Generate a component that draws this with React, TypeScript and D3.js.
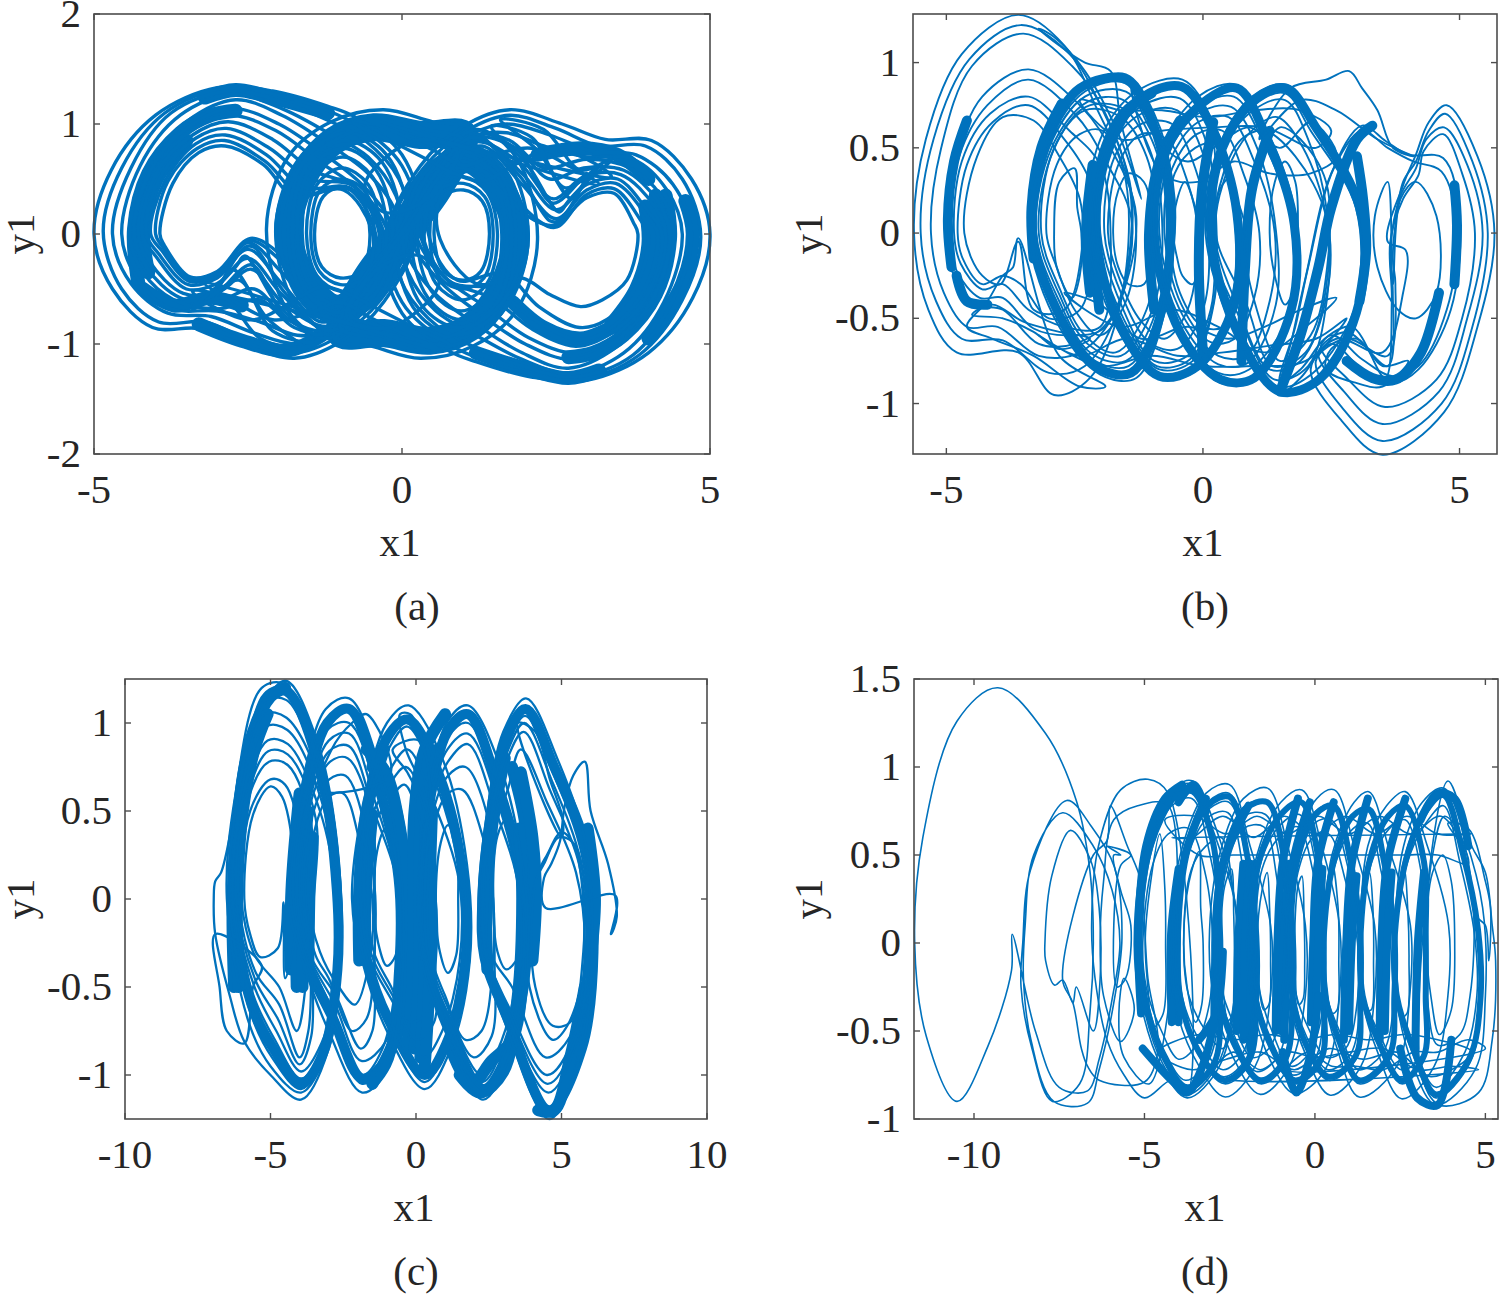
import React from "react";
import * as d3 from "d3";

// --- panel (a)
const loopsA = [
  [-5,0,-4.72,.58,-4,1.08,-3,1.33,-2.1,1.3,-1.2,1.16,-.75,1.06,0,.72,.3,.1,-.3,-.62,-1,-.98,-1.75,-1.13,-2.6,-1,-3.3,-.86,-4.05,-.85,-4.7,-.5],
  [-4.85,.02,-4.55,.6,-3.85,1.1,-2.85,1.33,-2,1.26,-1.2,1.12,-.7,.98,0,.62,.25,.05,-.35,-.6,-1.05,-.94,-1.75,-1.08,-2.5,-.96,-3.2,-.8,-3.95,-.8,-4.55,-.5],
  [-4.7,0,-4.4,.6,-3.75,1.1,-2.8,1.3,-1.95,1.2,-1.15,1.02,-.6,.85,-.05,.5,.15,0,-.4,-.58,-1.1,-.9,-1.7,-1,-2.4,-.9,-3.1,-.75,-3.8,-.72,-4.4,-.45],
  [-4.55,0,-4.25,.62,-3.6,1.08,-2.75,1.27,-1.95,1.14,-1.2,.92,-.55,.7,-.1,.35,.05,-.05,-.45,-.55,-1.15,-.88,-1.7,-.92,-2.3,-.8,-3,-.7,-3.75,-.68,-4.3,-.4],
  [-4.42,0,-4.15,.6,-3.5,1.02,-2.7,1.22,-1.95,1.08,-1.2,.82,-.55,.55,-.12,.22,-.05,-.1,-.5,-.55,-1.2,-.9,-1.75,-.85,-2.3,-.6,-3,-.68,-3.7,-.6,-4.2,-.35],
  [-4.35,.03,-4.08,.58,-3.45,.98,-2.75,1.14,-2,1,-1.3,.74,-.65,.45,-.2,.12,-.12,-.15,-.55,-.58,-1.2,-.88,-1.85,-.78,-2.4,-.5,-2.95,-.6,-3.6,-.58,-4.15,-.3],
  [-4.28,0,-4.02,.55,-3.42,.94,-2.8,1.08,-2.05,.94,-1.35,.66,-.7,.4,-.25,.05,-.2,-.2,-.6,-.6,-1.2,-.84,-1.9,-.65,-2.45,-.32,-2.95,-.52,-3.55,-.54,-4.1,-.25],
  [-4.22,0,-3.98,.56,-3.4,.9,-2.82,1.02,-2.1,.86,-1.45,.58,-.75,.42,-.3,.02,-.3,-.25,-.65,-.6,-1.25,-.86,-1.95,-.55,-2.5,-.22,-3,-.45,-3.5,-.5,-4,-.2],
  [-4.15,0,-3.92,.52,-3.35,.87,-2.85,.96,-2.15,.78,-1.5,.5,-.8,.44,-.35,.05,-.35,-.3,-.7,-.62,-1.3,-.8,-1.95,-.45,-2.5,-.14,-3,-.4,-3.47,-.46,-3.95,-.18],
  [-4.08,0,-3.85,.48,-3.35,.82,-2.87,.9,-2.2,.72,-1.6,.42,-.85,.42,-.4,.08,-.42,-.32,-.75,-.62,-1.3,-.72,-1.95,-.35,-2.5,-.08,-3,-.38,-3.45,-.43,-3.9,-.15],
  [-4,0,-3.8,.48,-3.32,.78,-2.88,.85,-2.22,.66,-1.65,.36,-.9,.42,-.45,.05,-.45,-.3,-.8,-.6,-1.3,-.66,-1.9,-.28,-2.48,-.06,-3,-.36,-3.45,-.41,-3.88,-.12],
  [-3.93,0,-3.72,.46,-3.3,.74,-2.87,.8,-2.25,.63,-1.75,.34,-.95,.4,-.5,.05,-.5,-.25,-.85,-.55,-1.3,-.6,-1.9,-.22,-2.46,-.04,-3,-.34,-3.44,-.39,-3.86,-.1],
  [5,0,4.72,-.58,4,-1.08,3,-1.33,2.1,-1.3,1.2,-1.16,.75,-1.06,0,-.72,-.3,-.1,.3,.62,1,.98,1.75,1.13,2.6,1,3.3,.86,4.05,.85,4.7,.5],
  [4.85,-.02,4.55,-.6,3.85,-1.1,2.85,-1.33,2,-1.26,1.2,-1.12,.7,-.98,0,-.62,-.25,-.05,.35,.6,1.05,.94,1.75,1.08,2.5,.96,3.2,.8,3.95,.8,4.55,.5],
  [4.7,0,4.4,-.6,3.75,-1.1,2.8,-1.3,1.95,-1.2,1.15,-1.02,.6,-.85,.05,-.5,-.15,0,.4,.58,1.1,.9,1.7,1,2.4,.9,3.1,.75,3.8,.72,4.4,.45],
  [4.55,0,4.25,-.62,3.6,-1.08,2.75,-1.27,1.95,-1.14,1.2,-.92,.55,-.7,.1,-.35,-.05,.05,.45,.55,1.15,.88,1.7,.92,2.3,.8,3,.7,3.75,.68,4.3,.4],
  [4.42,0,4.15,-.6,3.5,-1.02,2.7,-1.22,1.95,-1.08,1.2,-.82,.55,-.55,.12,-.22,.05,.1,.5,.55,1.2,.9,1.75,.85,2.3,.6,3,.68,3.7,.6,4.2,.35],
  [4.35,-.03,4.08,-.58,3.45,-.98,2.75,-1.14,2,-1,1.3,-.74,.65,-.45,.2,-.12,.12,.15,.55,.58,1.2,.88,1.85,.78,2.4,.5,2.95,.6,3.6,.58,4.15,.3],
  [4.28,0,4.02,-.55,3.42,-.94,2.8,-1.08,2.05,-.94,1.35,-.66,.7,-.4,.25,-.05,.2,.2,.6,.6,1.2,.84,1.9,.65,2.45,.32,2.95,.52,3.55,.54,4.1,.25],
  [4.22,0,3.98,-.56,3.4,-.9,2.82,-1.02,2.1,-.86,1.45,-.58,.75,-.42,.3,-.02,.3,.25,.65,.6,1.25,.86,1.95,.55,2.5,.22,3,.45,3.5,.5,4,.2],
  [4.15,0,3.92,-.52,3.35,-.87,2.85,-.96,2.15,-.78,1.5,-.5,.8,-.44,.35,-.05,.35,.3,.7,.62,1.3,.8,1.95,.45,2.5,.14,3,.4,3.47,.46,3.95,.18],
  [4,0,3.8,-.48,3.32,-.78,2.88,-.85,2.22,-.66,1.65,-.36,.9,-.42,.45,-.05,.45,.3,.8,.6,1.3,.66,1.9,.28,2.48,.06,3,.36,3.45,.41,3.88,.12],
  [3.83,0,3.65,-.42,3.25,-.6,2.9,-.66,2.4,-.55,1.95,-.4,1.2,-.45,.62,-.05,.6,.3,.95,.58,1.4,.55,1.95,.2,2.46,.08,3,.33,3.44,.37,3.76,.1],
  [-1.42,0,-1.28,.34,-1,.42,-.68,.34,-.52,0,-.66,-.34,-1,-.4,-1.3,-.3],
  [-1.55,0,-1.38,.45,-.98,.6,-.55,.45,-.36,0,-.58,-.45,-1,-.52,-1.38,-.38],
  [-1.7,0,-1.5,.58,-.95,.78,-.42,.58,-.15,.03,-.45,-.55,-1,-.66,-1.48,-.48],
  [-1.85,0,-1.58,.68,-.9,.92,-.25,.72,.1,.1,-.3,-.55,-1,-.78,-1.6,-.55],
  [1.42,0,1.28,-.34,1,-.42,.68,-.34,.52,0,.66,.34,1,.4,1.3,.3],
  [1.55,0,1.38,-.45,.98,-.6,.55,-.45,.36,0,.58,.45,1,.52,1.38,.38],
  [1.7,0,1.5,-.58,.95,-.78,.42,-.58,.15,-.03,.45,.55,1,.66,1.48,.48],
  [1.85,0,1.58,-.68,.9,-.92,.25,-.72,-.1,-.1,.3,.55,1,.78,1.6,.55],
  [-1.48,0,-1.33,.4,-1,.5,-.62,.4,-.45,0,-.62,-.4,-1,-.46,-1.34,-.34],
  [-1.62,0,-1.44,.52,-.96,.7,-.48,.52,-.25,.02,-.5,-.5,-1,-.6,-1.42,-.44],
  [-1.78,0,-1.54,.63,-.92,.85,-.32,.65,-.02,.06,-.36,-.55,-1,-.72,-1.55,-.52],
  [1.48,0,1.33,-.4,1,-.5,.62,-.4,.45,0,.62,.4,1,.46,1.34,.34],
  [1.62,0,1.44,-.52,.96,-.7,.48,-.52,.25,-.02,.5,.5,1,.6,1.42,.44],
  [1.78,0,1.54,-.63,.92,-.85,.32,-.65,.02,-.06,.36,.55,1,.72,1.55,.52],
  [-2.2,.05,-1.85,.7,-1.15,1.02,-.3,1.13,.5,1.02,1.1,.95,.65,.42,.05,-.02,-.5,-.6,-1.2,-.95,-1.85,-.7],
  [2.2,-.05,1.85,-.7,1.15,-1.02,.3,-1.13,-.5,-1.02,-1.1,-.95,-.65,-.42,-.05,.02,.5,.6,1.2,.95,1.85,.7],
  [-2.05,.02,-1.75,.62,-1.1,.95,-.3,1.06,.4,.95,1,.85,.55,.38,0,-.02,-.55,-.55,-1.15,-.88,-1.75,-.62],
  [-1.98,0,-1.68,.58,-1,.88,-.3,.98,.3,.85,.85,.72,.4,.3,-.05,-.05,-.6,-.52,-1.1,-.8,-1.68,-.58],
  [2.05,-.02,1.75,-.62,1.1,-.95,.3,-1.06,-.4,-.95,-1,-.85,-.55,-.38,0,.02,.55,.55,1.15,.88,1.75,.62],
  [1.98,0,1.68,-.58,1,-.88,.3,-.98,-.3,-.85,-.85,-.72,-.4,-.3,.05,.05,.6,.52,1.1,.8,1.68,.58],
  [-.8,1.02,-.2,.85,.4,.68,.85,.55,1.3,.48,1.8,.62,2.4,.78,3,.68,3.4,.52],
  [-.6,1.05,0,.9,.55,.75,1,.62,1.5,.72,2.1,.78,2.7,.62,3.2,.45],
  [.8,-1.02,.2,-.85,-.4,-.68,-.85,-.55,-1.3,-.48,-1.8,-.62,-2.4,-.78,-3,-.68,-3.4,-.52],
  [.6,-1.05,0,-.9,-.55,-.75,-1,-.62,-1.5,-.72,-2.1,-.78,-2.7,-.62,-3.2,-.45],
  [-2.4,-.12,-1.95,-.5,-1.3,-.92,-1.9,-.75,-2.45,-.28,-3,-.55,-2.55,-.12],
  [-2.55,-.2,-2.05,-.62,-1.45,-.98,-2.1,-.88,-2.65,-.42,-3.2,-.62,-2.7,-.3],
  [-2.75,-.32,-2.2,-.76,-1.6,-1.04,-2.3,-.95,-2.9,-.58,-3.4,-.68,-2.95,-.45],
  [2.4,.12,1.95,.5,1.3,.92,1.9,.75,2.45,.28,3,.55,2.55,.12],
  [2.55,.2,2.05,.62,1.45,.98,2.1,.88,2.65,.42,3.2,.62,2.7,.3],
  [2.75,.32,2.2,.76,1.6,1.04,2.3,.95,2.9,.58,3.4,.68,2.95,.45],
  [-.6,.45,.2,.85,.9,.75,.35,.3,-.3,.2],
  [.6,-.45,-.2,-.85,-.9,-.75,-.35,-.3,.3,-.2],
];
const ringsA = [
  [-1.85,0,-1.62,.5,-1.1,.85,-.45,.97,.3,.9,1,.9,.6,.42,.05,0,-.5,-.45,-1.05,-.68,-1.55,-.45],
  [1.85,0,1.62,-.5,1.1,-.85,.45,-.97,-.3,-.9,-1,-.9,-.6,-.42,-.05,0,.5,.45,1.05,.68,1.55,.45],
];
const bandsA = [
  [-4.28,-.45,-4.35,.05,-4.12,.55,-3.6,.92,-3.1,1.08,-2.7,1.12],
  [-4.12,-.35,-4.2,.05,-3.98,.5,-3.5,.85],
  [-3.2,1.24,-2.7,1.31,-2.1,1.24,-1.2,1.1],
  [-4.2,-.5,-3.7,-.65,-3.1,-.58,-2.6,-.65],
  [-3.3,-.82,-2.6,-.97,-1.85,-1.06,-1.3,-.92],
  [4.28,.35,4.35,-.05,4.12,-.55,3.6,-.92,3.1,-1.08,2.7,-1.12],
  [4.12,.35,4.2,-.05,3.98,-.5,3.5,-.85],
  [3.95,.25,4,-.1,3.8,-.5,3.4,-.82],
  [4.6,.3,4.72,0,4.55,-.45,4,-.95],
  [3.2,-1.24,2.7,-1.31,2.1,-1.24,1.2,-1.08],
  [3.4,-.85,2.9,-.95,2.3,-.85,1.8,-.62],
  [2.2,.72,2.9,.78,3.5,.72,4,.5],
];

// --- panel (b)
const loopsB = [
  [-5.63,0,-5.4,.55,-4.7,1.05,-3.6,1.28,-2.7,1.1,-2.1,.75,-1.5,.3,-1.6,-.4,-2.2,-.85,-2.9,-.95,-3.6,-.7,-4.8,-.7,-5.35,-.45],
  [-5.5,0,-5.25,.55,-4.55,1.02,-3.55,1.22,-2.6,1.05,-2,.75,-1.4,.25,-1.6,-.4,-2.3,-.78,-3,-.82,-3.9,-.63,-4.7,-.62,-5.2,-.4],
  [-5.3,0,-5.1,.5,-4.5,.98,-3.5,1.17,-2.55,.98,-1.9,.7,-1.4,.2,-1.7,-.45,-2.4,-.7,-3.2,-.72,-4,-.55,-4.6,-.55,-5.05,-.35],
  [-5,0,-4.8,.45,-4.3,.8,-3.4,.96,-2.5,.78,-1.9,.55,-1.3,.1,-1.8,-.5,-2.5,-.65,-3.2,-.65,-3.9,-.45,-4.4,-.42,-4.85,-.25],
  [-4.95,0,-4.75,.45,-4.2,.75,-3.4,.9,-2.5,.7,-1.95,.45,-1.38,.05,-1.9,-.55,-2.6,-.6,-3.3,-.56,-3.9,-.38,-4.35,-.38,-4.8,-.22],
  [-4.85,0,-4.7,.42,-4.15,.7,-3.4,.8,-2.6,.6,-2,.4,-1.8,0,-2,-.55,-2.7,-.55,-3.4,-.45,-3.9,-.3,-4.3,-.33,-4.72,-.18],
  [-4.78,0,-4.6,.4,-4.1,.65,-3.4,.75,-2.7,.55,-2.2,.3,-2.1,0,-2.4,-.45,-3,-.5,-3.55,-.3,-3.9,-.25,-4.3,-.3,-4.68,-.15],
  [-4.65,0,-4.4,.45,-3.9,.68,-3.3,.66,-2.8,.45,-2.4,.2,-2.36,-.1,-2.7,-.45,-3.3,-.45,-3.6,-.05,-3.95,-.3,-4.3,-.25],
  [-3.4,0,-3.1,.5,-2.4,.85,-1.5,.93,-.95,.7,-.6,.3,-.7,-.4,-1.3,-.85,-2,-.83,-2.8,-.55],
  [-3.3,0,-3,.52,-2.3,.83,-1.5,.88,-.9,.62,-.55,.2,-.75,-.4,-1.4,-.82,-2.1,-.78,-2.8,-.5],
  [-3.25,0,-2.95,.5,-2.25,.77,-1.55,.78,-1,.55,-.7,.15,-.85,-.4,-1.5,-.75,-2.2,-.7,-2.8,-.4],
  [-3.15,0,-2.9,.5,-2.3,.72,-1.6,.68,-1.1,.45,-.9,.05,-1.1,-.45,-1.7,-.7,-2.3,-.6,-2.8,-.32],
  [-3.05,0,-2.85,.4,-2.4,.58,-1.95,.6,-1.5,.35,-1.3,0,-1.5,-.4,-2,-.6,-2.5,-.45,-2.85,-.2],
  [-2.9,0,-2.8,.3,-2.5,.38,-2.45,.15,-2.37,0,-2.4,-.25,-2.55,-.38,-2.85,-.2],
  [-2.25,0,-2,.55,-1.3,.83,-.4,.9,.2,.65,.65,.2,.55,-.4,-.1,-.8,-.85,-.85,-1.6,-.6],
  [-2.15,0,-1.9,.5,-1.25,.78,-.4,.85,.15,.6,.25,.15,.22,-.4,-.2,-.75,-.85,-.8,-1.55,-.55],
  [-2,0,-1.8,.5,-1.2,.7,-.5,.72,.02,.45,.2,.05,.15,-.45,-.3,-.72,-.95,-.75,-1.55,-.45],
  [-1.85,0,-1.65,.4,-1.2,.58,-.7,.55,-.3,.3,-.1,0,-.3,-.45,-.75,-.62,-1.2,-.52,-1.65,-.25],
  [-1.75,0,-1.65,.25,-1.45,.35,-1.15,.3,-1,0,-1.15,-.3,-1.45,-.3,-1.65,-.2],
  [-1,0,-.8,.5,-.1,.8,.65,.87,1.25,.6,1.8,.1,1.7,-.45,1,-.85,.35,-.88,-.45,-.6],
  [-.95,0,-.75,.48,-.1,.74,.6,.8,1.15,.55,1.75,.05,1.72,-.45,.9,-.8,.3,-.82,-.45,-.55],
  [-.85,0,-.65,.42,-.1,.65,.5,.68,1,.42,1.4,0,1.3,-.4,.85,-.72,.3,-.72,-.4,-.48],
  [-.65,0,-.55,.35,-.15,.5,.25,.52,.6,.25,.85,0,.75,-.35,.4,-.55,0,-.55,-.45,-.35],
  [-.58,0,-.5,.2,-.35,.3,-.2,.2,-.05,0,-.2,-.3,-.4,-.25,-.5,-.15],
  [.05,0,.3,.5,.95,.8,1.62,.87,2.2,.65,3,.15,3.02,-.4,2.2,-.85,1.5,-.95,.65,-.6],
  [.15,0,.4,.48,1,.75,1.6,.82,2.1,.6,2.98,.15,3,-.4,2.15,-.82,1.45,-.9,.7,-.55],
  [.22,0,.4,.35,.75,.55,1.2,.6,1.8,.45,2.4,.1,2.42,-.35,1.9,-.75,1.3,-.8,.7,-.45],
  [.25,0,.32,.25,.55,.33,.62,.1,.65,-.15,.55,-.4,.35,-.3],
  [1.3,0,1.4,.3,1.6,.42,1.8,.3,1.85,0,1.8,-.3,1.6,-.42,1.4,-.25],
  [.8,0,1.1,.4,1.5,.62,1.9,.55,2.4,.3,2.42,-.2,2.1,-.6,1.5,-.75,1.05,-.45],
  [2,-.26,2.5,.35,3.1,.63,3.56,.54,4,.46,4.68,.44,5,.1,4.83,-.45,4.2,-.8,3.7,-.88,3.1,-.8,2.5,-.65,1.9,-.85,1.5,-.95,1.75,-.6],
  [2.05,-.2,2.55,.38,3.1,.6,3.6,.5,4.1,.42,4.65,.36,4.95,0,4.75,-.45,4.2,-.78,3.7,-.84,3.1,-.74,2.5,-.6,1.9,-.8,1.5,-.88,1.8,-.55],
  [4.75,.75,5.35,.45,5.68,0,5.35,-.55,4.7,-1.05,3.5,-1.3,2.7,-1.1,2.1,-.8,2.6,-.62,3.5,-.7,3.9,-.35,3.95,-.1,3.6,-.05,3.9,.28,4.15,.46,4.4,.65],
  [4.72,.7,5.25,.42,5.55,0,5.25,-.55,4.65,-1,3.5,-1.22,2.7,-1.02,2.2,-.75,2.8,-.62,3.6,-.72,3.75,-.3,3.7,-.15,3.75,.05,3.9,.3,4.15,.42,4.4,.6],
  [4.7,.62,5.15,.4,5.45,0,5.15,-.5,4.6,-.93,3.5,-1.12,2.75,-.93,2.25,-.7,2.8,-.58,3.6,-.78,3.7,-.35,3.65,-.1,3.85,.22,4.15,.38,4.35,.55],
  [4.68,.58,5.05,.35,5.3,0,5.05,-.5,4.55,-.86,3.55,-1.02,2.8,-.85,2.3,-.66,2.9,-.55,3.55,-.85,3.68,-.4,3.65,-.05,3.9,.2,4.2,.34,4.3,.48],
  [3.7,-.3,3.85,.2,4.15,.3,4.55,.1,4.55,-.35,4.15,-.5,3.8,-.45,3.4,-.2,3.35,.1,3.6,.3],
  [-3.28,0,-3,.5,-2.3,.8,-1.5,.83,-.95,.58,-.62,.15,-.8,-.4,-1.45,-.78,-2.15,-.74,-2.8,-.45],
  [-3.2,0,-2.92,.48,-2.28,.74,-1.55,.73,-1.05,.5,-.8,.1,-.95,-.42,-1.6,-.72,-2.25,-.65,-2.8,-.36],
  [-2.08,0,-1.85,.5,-1.22,.74,-.45,.79,.08,.52,.22,.1,.2,-.42,-.25,-.74,-.9,-.78,-1.55,-.5],
  [-1.92,0,-1.72,.45,-1.2,.64,-.6,.64,-.15,.38,.1,.02,0,-.45,-.5,-.68,-1.05,-.64,-1.6,-.35],
  [-.9,0,-.7,.45,-.1,.7,.55,.74,1.08,.48,1.42,.02,1.42,-.42,.88,-.76,.3,-.77,-.42,-.52],
  [-.75,0,-.6,.38,-.12,.58,.38,.6,.8,.34,1.1,0,1,-.38,.62,-.62,.15,-.64,-.42,-.42],
  [.1,0,.36,.48,.98,.72,1.6,.78,2.05,.55,2.42,.12,2.42,-.38,2.05,-.78,1.4,-.86,.72,-.5],
  [.25,0,.55,.42,1.02,.62,1.45,.68,1.95,.5,2.4,.1,2.4,-.32,2,-.7,1.35,-.78,.85,-.42],
  [-2.4,.78,-1.6,.72,-.8,.72,.1,.68,1,.72,1.9,.72,2.5,.6,2.2,.5,1.2,.62,.2,.62,-.8,.6,-1.6,.55],
  [-3.2,-.6,-2.4,-.72,-1.5,-.62,-.5,-.72,.4,-.7,1.3,-.66,2.2,-.62,2.8,-.5,2,-.75,1,-.78,0,-.78,-1,-.72,-2,-.78],
  [1.1,.55,1.7,.85,2.4,.9,2.85,.95,3.1,.85,3.4,.72,3.7,.5,4.1,.45,3.4,.55,2.6,.72,1.9,.78],
  [-1.8,.95,-2.3,1,-2.8,1.1,-3.2,1.2,-2.9,1.15,-2.3,.95,-1.6,.55,-1.2,.2,-1.6,.65],
  [-3.6,-.03,-3.7,-.2,-3.9,-.25,-4.2,-.4,-4.6,-.55,-4.1,-.62,-3.3,-.72,-2.4,-.9,-1.9,-.9,-2.8,-.72],
  [-1.4,.85,-.9,.55,-.3,.42,.2,.5,.9,.62,1.5,.5,2.1,.65,2.6,.45,2.1,.35,1.3,.35,.6,.42,-.1,.3,-.8,.35],
  [-2.7,-.35,-2,-.42,-1.2,-.62,-.3,-.55,.5,-.62,1.2,-.55,1.9,-.45,2.6,-.38,2,-.55,1.2,-.7,.3,-.55,-.6,-.45,-1.6,-.55],
  [2.5,-.68,3,-.62,3.5,-.78,4,-.75,3.5,-.9,3,-.88,2.4,-.8],
  [-4.5,-.48,-3.9,-.5,-3.3,-.58,-2.8,-.68,-2.2,-.62,-2.8,-.58,-3.5,-.52,-4.1,-.42],
];
const ringsB = [
  [-3.32,0,-3.02,.55,-2.4,.85,-1.5,.9,-.95,.62,-.65,.15,-.8,-.45,-1.4,-.82,-2.1,-.78,-2.85,-.45],
  [-2.08,0,-1.85,.48,-1.25,.78,-.42,.86,.2,.6,.66,.12,.6,-.42,-.1,-.78,-.85,-.84,-1.6,-.55],
  [-.95,0,-.72,.48,-.1,.74,.66,.85,1.25,.55,1.78,.05,1.72,-.45,1,-.85,.35,-.86,-.45,-.58],
  [.15,0,.38,.5,1,.78,1.62,.85,2.2,.62,3.05,.15,3.05,-.4,2.3,-.85,1.5,-.93,.7,-.6],
];
const bandsB = [
  [-4.9,-.2,-4.97,.08,-4.85,.42,-4.6,.66],
  [-3.3,-.15,-3.34,.15,-3.15,.5,-2.75,.76],
  [-2.02,-.45,-2.12,0,-1.98,.42,-1.55,.7,-1,.82],
  [-2.2,-.35,-2.28,0,-2.15,.4],
  [-.95,-.45,-1.05,0,-.85,.42,-.45,.66],
  [0,-.7,-.08,-.2,-.02,.25,.2,.65],
  [.75,-.75,.82,-.2,.95,.25,1.3,.6],
  [3.05,-.4,3.18,-.1,3.12,.2,3,.45],
  [1.5,-.93,1.9,-.6,2.25,-.2,2.5,.15,3,.55,3.3,.63],
  [4.9,-.3,4.95,.05,4.9,.28],
  [2.8,-.75,3.3,-.85,3.75,-.86,4.25,-.7,4.6,-.35],
  [-4.8,-.25,-4.6,-.4,-4.2,-.42],
];

// --- panel (c)
const loopsC = [
  [-6.95,0,-6.9,.1,-6.7,.15,-6.35,.4,-5.9,.85,-4.5,1.24,-3.4,.9,-2.7,.3,-2.6,-.3,-3,-.85,-3.95,-1.14,-5,-1,-5.9,-.81,-6.4,-.55,-6.9,-.2],
  [-6.5,0,-6.2,.6,-5.3,1.2,-4.5,1.22,-3.2,.75,-2.6,.1,-2.6,-.4,-3.1,-.88,-3.95,-1.1,-5,-.95,-5.75,-.7],
  [-6.35,0,-6,.6,-5.2,1.05,-4.45,1.03,-3.2,.62,-2.7,.05,-2.65,-.4,-3.15,-.85,-3.95,-1.05,-4.9,-.85,-5.6,-.6],
  [-6.25,0,-5.9,.55,-5.1,.9,-4.4,.88,-3.3,.5,-2.72,0,-2.7,-.4,-3.25,-.82,-3.95,-.98,-4.8,-.75,-5.55,-.5],
  [-6.1,0,-5.8,.55,-5.05,.78,-4.4,.76,-3.6,.42,-3.55,0,-3.6,-.45,-3.7,-.75,-4,-.9,-4.7,-.6,-5.5,-.42],
  [-6,0,-5.7,.5,-5,.68,-4.5,.65,-3.9,.3,-3.7,0,-3.8,-.5,-4.1,-.75,-4.7,-.5,-5.3,-.38,-5.6,-.3],
  [-5.9,0,-5.6,.48,-5,.64,-4.6,.58,-4.2,.25,-4.15,-.2,-4.5,-.45,-4.55,-.02,-4.75,-.28,-5.35,-.33,-5.7,-.2],
  [-4.4,0,-4,.55,-3.1,1.08,-2.3,1.14,-1.2,.72,-.55,.2,-.45,-.4,-.9,-.95,-1.85,-1.1,-3,-.75,-3.9,-.35],
  [-4.3,0,-3.9,.55,-3,1,-2.3,1.06,-1.25,.62,-.62,.15,-.6,-.4,-1,-.9,-1.85,-1.05,-2.9,-.7,-3.8,-.35],
  [-4.15,0,-3.8,.5,-3,.9,-2.3,.94,-1.4,.55,-.65,.1,-.65,-.4,-1.15,-.85,-1.85,-1,-2.8,-.65,-3.7,-.33],
  [-4,0,-3.7,.5,-2.95,.78,-2.35,.8,-1.5,.45,-1.42,.05,-1.42,-.35,-1.5,-.75,-1.9,-.85,-2.75,-.55,-3.6,-.33],
  [-3.7,0,-3.5,.38,-3,.58,-2.5,.6,-1.9,.3,-1.5,0,-1.6,-.35,-2.1,-.6,-2.65,-.5,-3.3,-.3],
  [-2.2,0,-1.85,.5,-1,1,-.25,1.1,.9,.8,1.75,.2,1.85,-.35,1.2,-.85,.3,-1.08,-1,-.75,-1.85,-.35],
  [-2,0,-1.7,.5,-.95,.85,-.3,.98,.7,.65,1.5,.15,1.6,-.35,1,-.8,.3,-1,-.85,-.7,-1.7,-.33],
  [-1.9,0,-1.65,.5,-.95,.72,-.3,.85,.6,.55,1.48,.1,1.5,-.35,.9,-.75,.25,-.9,-.75,-.6,-1.6,-.33],
  [-1.65,0,-1.45,.42,-.95,.55,-.4,.65,.2,.4,.65,.05,.68,-.35,.35,-.65,-.25,-.7,-.85,-.5,-1.45,-.3],
  [-1.45,0,-1.3,.3,-1.05,.4,-.7,.33,-.55,0,-.7,-.32,-1,-.38,-1.3,-.25],
  [.05,0,.35,.5,1.05,1,1.78,1.1,2.9,.75,3.7,.15,3.85,-.35,3.2,-.9,2.3,-1.14,1,-.75,.2,-.35],
  [.1,0,.4,.5,1.1,.92,1.78,1,2.8,.62,3.55,.1,3.7,-.35,3.1,-.85,2.3,-1.08,1.05,-.72,.25,-.33],
  [.2,0,.45,.48,1.1,.78,1.78,.88,2.7,.52,3.55,.05,3.55,-.35,2.95,-.8,2.25,-1,1.1,-.65,.35,-.33],
  [.4,0,.62,.42,1.1,.6,1.6,.62,2.3,.35,2.65,0,2.65,-.35,2.25,-.75,1.7,-.8,1,-.55,.5,-.32],
  [.68,0,.85,.32,1.1,.42,1.38,.32,1.45,0,1.38,-.32,1.1,-.42,.82,-.3],
  [2.15,0,2.45,.5,3,.95,3.78,1.14,4.85,.8,5.85,.3,6.05,-.3,5.7,-.85,4.58,-1.25,3.05,-.7,2.3,-.35],
  [2.25,0,2.55,.48,3.1,.85,3.75,1.04,4.7,.72,5.7,.25,5.95,-.3,5.55,-.8,4.55,-1.1,3.1,-.65,2.4,-.33],
  [2.35,0,2.62,.45,3.1,.78,3.7,.95,4.6,.62,5.6,.2,5.85,-.3,5.4,-.8,4.5,-1,3.15,-.6,2.45,-.32],
  [2.55,0,2.8,.45,3.15,.62,3.6,.85,4.5,.55,5.5,.15,5.8,-.3,5.3,-.78,4.45,-.9,3.3,-.5,2.6,-.32],
  [2.65,0,2.8,.36,3.1,.45,3.5,.35,3.6,0,3.5,-.33,3.1,-.4,2.8,-.3],
  [3.95,-.05,4.1,.1,4.4,.2,4.9,.35,5.4,.32,5.8,.1,5.9,-.3,5.2,-.72,4.7,-.8,3.9,-.5],
  [-6.42,0,-6.1,.6,-5.25,1.12,-4.45,1.13,-3.3,.68,-2.65,.08,-2.62,-.38,-3.12,-.86,-3.95,-1.08,-4.95,-.9,-5.68,-.65],
  [-6.3,0,-5.95,.58,-5.15,.98,-4.42,.96,-3.25,.56,-2.72,.02,-2.7,-.4,-3.2,-.84,-3.95,-1.02,-4.85,-.8,-5.58,-.55],
  [-6.18,0,-5.85,.55,-5.08,.84,-4.4,.82,-3.45,.46,-3.5,0,-3.55,-.42,-3.6,-.78,-4,-.94,-4.75,-.68,-5.52,-.46],
  [-4.22,0,-3.85,.55,-3.05,.96,-2.3,1,-1.3,.58,-.7,.12,-.68,-.4,-1.08,-.88,-1.85,-1.02,-2.85,-.68,-3.75,-.34],
  [-4.08,0,-3.75,.5,-2.98,.84,-2.32,.87,-1.45,.5,-.62,.08,-.6,-.38,-1,-.8,-1.88,-.92,-2.78,-.6,-3.65,-.33],
  [-3.85,0,-3.6,.45,-2.98,.68,-2.42,.7,-1.7,.38,-1.4,.02,-1.45,-.35,-1.7,-.68,-2.2,-.75,-3,-.45,-3.45,-.32],
  [-2.1,0,-1.78,.5,-.98,.92,-.28,1.04,.8,.72,1.6,.18,1.72,-.35,1.1,-.82,.3,-1.04,-.92,-.72,-1.78,-.34],
  [-1.78,0,-1.55,.46,-.95,.64,-.35,.75,.4,.48,.66,.08,.66,-.35,.62,-.7,.02,-.8,-.8,-.55,-1.52,-.32],
  [.15,0,.42,.5,1.08,.85,1.78,.94,2.75,.58,3.5,.08,3.6,-.35,3.02,-.82,2.28,-1.04,1.08,-.68,.3,-.33],
  [.3,0,.52,.45,1.1,.7,1.7,.75,2.5,.44,2.65,.02,2.7,-.35,2.6,-.78,1.98,-.9,1.05,-.6,.42,-.32],
  [2.3,0,2.58,.47,3.1,.82,3.72,1,4.65,.68,5.65,.22,5.9,-.3,5.48,-.8,4.52,-1.05,3.12,-.62,2.42,-.33],
  [4,-.05,4.2,.15,4.5,.25,5,.38,5.45,.3,5.72,.05,5.75,-.3,5.3,-.7,4.7,-.72,4.1,-.5],
  [4.45,-.05,4.4,.12,4.65,.2,4.95,.33,5.1,.52,5.4,.7,5.8,.78,6,.5,6.6,.2,6.9,-.1,6.7,-.2,6.85,.02],
  [3.5,1,4.1,.95,4.6,.68,5.05,.45,5,.35],
  [-3.3,.62,-2.9,.85,-2.2,1,-1.7,1.05,-.9,.7],
  [-.55,1.05,-.35,.85,.2,.65,.55,.45,.3,.85,-.2,1.05],
  [-.8,.85,-.3,.72,.2,.55,.55,.3,.1,.9],
  [-6.9,-.2,-6.75,-.5,-6.5,-.75,-5.9,-.82,-5.6,-.5,-5.3,-.38],
];
const ringsC = [
  [-6.25,0,-5.9,.55,-5.12,1.15,-4.45,1.18,-3.25,.7,-2.72,.05,-2.7,-.4,-3.2,-.88,-3.95,-1.05,-4.9,-.85,-5.65,-.6],
  [-4.2,0,-3.85,.52,-3.05,1,-2.3,1.08,-1.25,.62,-.6,.12,-.58,-.4,-1,-.9,-1.85,-1.02,-2.85,-.68,-3.8,-.34],
  [-1.95,0,-1.68,.5,-.98,.92,-.28,1.02,.8,.7,1.6,.15,1.7,-.35,1.05,-.82,.3,-1,-.9,-.7,-1.7,-.34],
  [.15,0,.42,.5,1.08,.95,1.78,1.05,2.8,.65,3.65,.12,3.8,-.35,3.15,-.88,2.3,-1.08,1.05,-.7,.28,-.33],
  [2.28,0,2.56,.47,3.08,.9,3.76,1.08,4.75,.75,5.85,.28,6.1,-.3,5.7,-.85,4.58,-1.2,3.08,-.65,2.35,-.33],
];
const bandsC = [
  [-6.25,-.5,-6.3,0,-6.1,.5,-5.6,.95,-5,1.15,-4.5,1.2],
  [-6.1,-.5,-6.15,0,-5.95,.5,-5.55,.85,-5.1,1.05],
  [-4.1,-.5,-4.1,.05,-3.85,.55,-3.4,.9],
  [-3.9,-.5,-3.9,.05,-3.72,.5],
  [-3.7,-.4,-3.68,0,-3.55,.35],
  [-4.3,-.4,-4.28,.05,-4,.6],
  [-1.95,-.35,-1.95,.05,-1.7,.5,-1.1,.85],
  [-1.75,-.35,-1.72,.05,-1.5,.48],
  [-1.5,.75,-.9,.62,-.45,.25,-.4,-.3,-.75,-.8,-1.5,-1.05],
  [-1.7,.85,-1.05,.72,-.55,.4,-.28,0,-.28,-.35,-.5,-.75],
  [-.3,-.85,-.12,-.45,-.1,0,-.05,.5,.3,.85,1,1.05],
  [-.05,-.85,.1,-.45,.12,0,.18,.5,.5,.85],
  [.15,-.9,.3,-.4,.32,0,.38,.5,.75,.85],
  [.3,-.95,.45,-.5,.46,0,.55,.5],
  [1.2,-.85,1.9,-1.05,2.6,-.92,3.3,-.8,3.7,-.4,3.85,0,3.78,.4,3.3,.75],
  [1.5,-1,2.2,-1.1,3,-.98,3.5,-.55,3.65,0,3.55,.4],
  [4,-.35,4.12,0,4,.35,3.6,.72],
  [2.45,-.4,2.42,0,2.62,.42,3.05,.8],
  [5.95,-.4,6.15,0,5.9,.4],
  [4.2,-1.2,4.75,-1.2,5.3,-.9,5.8,-.5],
];

// --- panel (d)
const loopsD = [
  [-8.88,.05,-8.9,-.155,-9.6,-.59,-10.5,-.9,-11.4,-.53,-11.74,0,-11.5,.6,-10.5,1.26,-9.3,1.45,-7.9,1.19,-7,.81,-6.6,.41,-6.5,0,-6.6,-.4,-6.9,-.8,-7.7,-.9,-8.3,-.6,-8.62,-.25,-8.57,0,-8.35,.41,-7.28,.81,-6.55,.66,-5.88,.43,-5.66,.03,-5.9,-.34,-6.33,-.72,-6.67,-.91,-7.66,-.9,-8.33,-.55,-8.55,-.2,-8.5,.1,-8.25,.5,-7.4,.74,-6.5,.55,-5.95,.3,-5.72,0,-5.95,-.32,-6.33,-.66,-6.67,-.84,-7.5,-.82,-8.2,-.5],
  [-7.92,0,-7.72,.38,-7.17,.64,-6.6,.48,-6.33,.2,-6.3,-.2,-6.5,-.5,-7,-.25,-7.1,-.34,-7.4,-.21,-7.63,-.24,-7.9,-.1],
  [-7.4,-.21,-7.1,-.34,-6.85,-.6,-6.67,-.7,-6.33,-.78,-5,-.79,-4.6,-.6,-4.9,-.2,-5,.1,-5.1,.35,-5.5,.55,-6,.78,-6.1,.58,-6.5,.5],
  [-4.3,.85,-4.9,.93,-5.7,.87,-6.35,.55,-6.55,.1,-6.45,-.2,-6.1,-.55,-5.6,-.75,-5,-.88,-4.2,-.78,-3.75,-.85],
  [-4.3,.78,-5.2,.78,-5.9,.7,-6.2,.35,-6.3,0,-6.2,-.3,-5.7,-.56,-5.3,-.38,-5.6,-.2,-5.75,-.4,-5.6,-.65,-4.85,-.8],
  [-6.1,.55,-5.7,.5,-5.9,.5,-5.7,.3,-5.4,.1,-5.55,-.2,-5.8,-.25,-5.9,.1,-5.7,.44,-5.4,.5],
  [-5.3,0,-4.95,.55,-4,.9,-3.58,.92,-2.9,.65,-2.32,.2,-2.3,-.2,-2.8,-.7,-3.75,-.88,-4.5,-.7,-5.1,-.35],
  [-5.2,0,-4.85,.55,-4.1,.85,-3.58,.88,-3,.6,-2.8,.15,-2.78,-.25,-2.95,-.7,-3.75,-.84,-4.45,-.66,-5,-.32],
  [-5.1,0,-4.8,.52,-4.2,.78,-3.6,.82,-3.1,.52,-2.78,.1,-2.78,-.25,-3.1,-.66,-3.8,-.78,-4.4,-.62,-4.95,-.3],
  [-5.05,0,-4.75,.45,-4.3,.62,-3.7,.65,-3.2,.38,-3,0,-3.1,-.35,-3.55,-.6,-4,-.66,-4.5,-.5,-4.95,-.25],
  [-4.98,0,-4.85,.3,-4.55,.62,-4.4,.3,-4.38,0,-4.45,-.4,-4.75,-.48,-4.9,-.25],
  [-4.25,0,-3.95,.5,-3.2,.85,-2.51,.9,-1.9,.55,-1.3,.1,-1.28,-.25,-1.75,-.7,-2.63,-.875,-3.4,-.7,-4.1,-.35],
  [-4.15,0,-3.85,.5,-3.15,.8,-2.51,.85,-1.95,.5,-1.72,.05,-1.72,-.3,-1.9,-.68,-2.65,-.8,-3.4,-.64,-4,-.32],
  [-4,0,-3.75,.48,-3.1,.72,-2.55,.74,-2.1,.42,-1.8,0,-1.8,-.3,-2.1,-.62,-2.7,-.72,-3.4,-.55,-3.9,-.3],
  [-3.85,0,-3.62,.42,-3.2,.55,-2.75,.6,-2.4,.3,-2.25,0,-2.3,-.35,-2.7,-.6,-3.2,-.5,-3.7,-.3],
  [-3.85,0,-3.7,.34,-3.4,.52,-3.35,.2,-3.28,0,-3.32,-.35,-3.5,-.45,-3.75,-.25],
  [-3.1,0,-2.8,.5,-2.1,.82,-1.39,.88,-.8,.55,-.28,.1,-.28,-.3,-.75,-.7,-1.6,-.86,-2.4,-.65,-2.95,-.33],
  [-3,0,-2.7,.5,-2.05,.78,-1.4,.8,-.88,.48,-.65,.05,-.65,-.3,-.85,-.68,-1.6,-.8,-2.35,-.6,-2.85,-.3],
  [-2.8,0,-2.6,.42,-2.1,.65,-1.5,.66,-1.1,.35,-.85,0,-.95,-.35,-1.35,-.6,-1.85,-.65,-2.4,-.45,-2.75,-.25],
  [-2.76,0,-2.65,.32,-2.45,.42,-2.38,.15,-2.36,-.1,-2.4,-.4,-2.55,-.44,-2.7,-.25],
  [-2,0,-1.7,.5,-1,.8,-.38,.87,.2,.55,.72,.1,.72,-.3,.3,-.72,-.6,-.856,-1.35,-.65,-1.85,-.33],
  [-1.9,0,-1.62,.5,-1,.74,-.4,.8,.12,.48,.25,.05,.25,-.3,.2,-.68,-.6,-.8,-1.3,-.6,-1.78,-.3],
  [-1.75,0,-1.55,.42,-1.05,.6,-.5,.66,-.05,.4,.25,0,.25,-.35,-.15,-.62,-.7,-.7,-1.3,-.48,-1.65,-.25],
  [-1.7,0,-1.55,.3,-1.4,.4,-1.33,.2,-1.3,-.1,-1.35,-.35,-1.5,-.38,-1.65,-.22],
  [-.85,0,-.6,.5,.05,.82,.57,.87,1.15,.55,1.75,.1,1.75,-.3,1.35,-.7,.45,-.865,-.3,-.62,-.75,-.33],
  [-.78,0,-.55,.48,.02,.75,.55,.78,1.05,.48,1.33,.05,1.33,-.3,1.2,-.66,.4,-.78,-.3,-.58,-.68,-.3],
  [-.65,0,-.5,.4,-.05,.6,.4,.62,.9,.35,1.25,0,1.25,-.32,.9,-.6,.35,-.65,-.2,-.48,-.6,-.25],
  [-.6,0,-.5,.32,-.38,.38,-.32,.15,-.3,-.12,-.35,-.32,-.48,-.35,-.58,-.2],
  [.25,0,.5,.5,1.15,.8,1.58,.86,2.15,.55,2.8,.1,2.78,-.3,2.4,-.7,1.3,-.875,.65,-.6,.3,-.33],
  [.22,0,.55,.48,1.1,.72,1.58,.76,2.05,.46,2.33,.05,2.33,-.3,2.2,-.66,1.3,-.8,.68,-.56,.3,-.3],
  [.28,0,.4,.38,.5,.46,.68,.2,.7,-.1,.65,-.38,.5,-.4,.35,-.25],
  [1.33,0,1.55,.55,2.1,.78,2.65,.86,3.3,.55,3.92,.1,3.9,-.3,3.5,-.7,2.54,-.885,1.8,-.6,1.4,-.33],
  [1.3,0,1.6,.5,2.15,.72,2.65,.78,3.2,.48,3.25,.05,3.25,-.3,3.2,-.66,2.54,-.8,1.8,-.55,1.38,-.3],
  [1.36,0,1.48,.33,1.6,.4,1.7,.2,1.72,-.1,1.65,-.38,1.5,-.38,1.4,-.22],
  [2.33,0,2.6,.55,3.15,.8,3.77,.88,4.4,.6,4.92,.2,5,-.3,4.7,-.72,3.55,-.92,2.85,-.68,2.4,-.33],
  [2.3,0,2.65,.5,3.2,.75,3.77,.83,4.35,.52,4.8,.1,4.88,-.3,4.55,-.68,3.55,-.88,2.85,-.62,2.38,-.3],
  [2.37,0,2.5,.35,2.62,.42,2.72,.2,2.76,-.1,2.7,-.4,2.55,-.42,2.42,-.22],
  [3.27,0,3.45,.4,3.75,.5,4,.35,4.1,0,4,-.38,3.65,-.52,3.4,-.3],
  [3.25,0,3.45,.5,3.8,.72,4.3,.6,4.65,.2,4.55,-.3,4.25,-.52,3.6,-.58,3.3,-.32],
  [3.9,.92,4.6,.55,5,.4,5.2,.1,5.3,-.1,5.2,-.55,4.8,-.85,3.65,-.92,3.1,-.72],
  [4.5,.65,5,.35,5.15,.2,5.1,-.1,5,.1,4.75,.15,4.3,.55,3.9,.68],
  [-.8,-.72,-.2,-.62,.5,-.7,1.2,-.7,2,-.72,2.9,-.62,3.6,-.62,4.5,-.55,5,-.6],
  [-3,-.75,-2.4,-.62,-1.6,-.72,-.8,-.62,0,-.65,1,-.62,2,-.6,3,-.72,4,-.7,4.8,-.72],
  [-4.2,.6,-3.6,.6,-2.7,.72,-1.8,.6,-.9,.72,0,.62,.9,.72,1.8,.62,2.7,.72,3.6,.62,4.6,.62],
  [-5.25,0,-4.9,.55,-4.05,.88,-3.58,.9,-2.95,.62,-2.3,.18,-2.3,-.22,-2.88,-.7,-3.75,-.86,-4.48,-.68,-5.05,-.34],
  [-4.05,0,-3.8,.5,-3.12,.76,-2.52,.8,-2,.46,-1.72,.02,-1.72,-.3,-2,-.65,-2.68,-.76,-3.4,-.6,-3.95,-.31],
  [-2.9,0,-2.65,.46,-2.08,.72,-1.45,.73,-.98,.42,-.68,.02,-.72,-.32,-1.1,-.65,-1.72,-.73,-2.38,-.52,-2.8,-.28],
  [-1.82,0,-1.58,.46,-1.02,.67,-.45,.73,.03,.44,.25,.02,.25,-.32,.02,-.65,-.65,-.75,-1.3,-.54,-1.72,-.28],
  [-.7,0,-.52,.44,-.02,.68,.48,.7,.98,.42,1.33,.03,1.33,-.31,1.05,-.63,.38,-.72,-.25,-.53,-.64,-.28],
  [.25,0,.58,.44,1.12,.65,1.55,.68,1.95,.4,2.33,.02,2.33,-.3,2,-.62,1.28,-.72,.72,-.5,.32,-.28],
  [1.33,0,1.65,.45,2.18,.65,2.65,.7,3.1,.42,3.25,.02,3.25,-.3,3.2,-.62,2.54,-.72,1.85,-.5,1.4,-.28],
  [2.33,0,2.7,.45,3.25,.68,3.77,.78,4.25,.46,4.68,.05,4.75,-.3,4.4,-.62,3.55,-.82,2.9,-.58,2.4,-.28],
  [-4.4,.7,-3.5,.72,-2.6,.62,-1.7,.72,-.8,.62,.1,.72,1,.62,1.9,.72,2.8,.62,3.7,.72,4.5,.45,3.6,.5,2.6,.5,1.6,.5,.6,.5,-.4,.5,-1.4,.5,-2.4,.5,-3.4,.5],
  [-4.6,-.62,-3.6,-.72,-2.6,-.66,-1.6,-.62,-.6,-.72,.4,-.6,1.4,-.66,2.4,-.62,3.4,-.76,4.6,-.62,3.6,-.55,2.6,-.52,1.6,-.55,.6,-.52,-.4,-.55,-1.4,-.52,-2.4,-.55,-3.4,-.52],
];
const ringsD = [
  [-5.15,0,-4.82,.55,-4.05,.84,-3.58,.86,-3,.58,-2.8,.14,-2.78,-.25,-2.95,-.68,-3.75,-.82,-4.45,-.64,-4.98,-.32],
  [-4.02,0,-3.82,.5,-3.15,.78,-2.51,.83,-1.97,.48,-1.72,.04,-1.72,-.3,-1.92,-.66,-2.65,-.78,-3.4,-.62,-3.95,-.31],
  [-2.95,0,-2.68,.48,-2.05,.76,-1.4,.8,-.88,.46,-.65,.04,-.65,-.3,-.87,-.66,-1.6,-.78,-2.35,-.58,-2.82,-.3],
  [-1.88,0,-1.62,.48,-1,.73,-.4,.8,.12,.46,.25,.04,.25,-.3,.18,-.66,-.6,-.78,-1.3,-.58,-1.76,-.3],
  [-.75,0,-.53,.46,.02,.73,.55,.78,1.05,.46,1.33,.04,1.33,-.3,1.2,-.64,.4,-.76,-.3,-.56,-.66,-.3],
  [.25,0,.55,.46,1.1,.72,1.58,.76,2.05,.44,2.33,.04,2.33,-.3,2.18,-.64,1.3,-.78,.68,-.54,.3,-.3],
  [1.33,0,1.62,.48,2.15,.72,2.65,.78,3.2,.46,3.25,.04,3.25,-.3,3.2,-.64,2.54,-.78,1.82,-.54,1.4,-.3],
  [2.33,0,2.68,.48,3.22,.74,3.77,.84,4.35,.5,4.78,.08,4.86,-.3,4.52,-.66,3.55,-.86,2.88,-.6,2.4,-.3],
];
const bandsD = [
  [-5.1,-.4,-5.18,.05,-4.95,.55,-4.4,.82,-3.9,.9],
  [-4,-.45,-4.05,.05,-3.8,.5,-3.2,.82],
  [-4.2,-.45,-4.22,.05,-4,.42],
  [-2.95,-.45,-2.9,.02,-2.7,.45,-1.95,.78],
  [-2.3,-.5,-2.25,0,-2.1,.45],
  [-2.1,-.55,-2.05,0,-1.9,.45],
  [-1.9,-.6,-1.85,0,-1.75,.45],
  [-1.15,-.5,-1.1,0,-.95,.45,-.5,.82],
  [-1,-.5,-.92,0,-.75,.45],
  [-.9,-.55,-.8,0,-.65,.45,-.15,.8],
  [-.12,-.45,-.05,0,.08,.45,.55,.8],
  [.02,-.45,.1,0,.22,.42],
  [.85,-.55,.92,0,1.08,.45,1.55,.82],
  [1,-.5,1.08,0,1.22,.38],
  [1.9,-.55,1.95,0,2.12,.45,2.65,.82],
  [2.05,-.5,2.12,0,2.25,.4],
  [2.95,-.6,3.02,0,3.2,.4],
  [-5.05,-.6,-4.2,-.78,-3.75,-.85,-3.3,-.7,-2.9,-.4],
  [-3.4,-.55,-2.9,-.4,-2.7,-.05],
  [-.95,-.62,-.55,-.85,-.15,-.65,.1,-.3],
  [2.5,-.6,3,-.88,3.6,-.92,4,-.55],
  [3.1,.7,3.6,.85,4.1,.82,4.5,.55],
  [-4,.8,-3.55,.9,-3.2,.75],
];

const xTicksA = [-5, 0, 5];
const yTicksA = [-2, -1, 0, 1, 2];
const xTicksB = [-5, 0, 5];
const yTicksB = [-1, -0.5, 0, 0.5, 1];
const xTicksC = [-10, -5, 0, 5, 10];
const yTicksC = [-1, -0.5, 0, 0.5, 1];
const xTicksD = [-10, -5, 0, 5];
const yTicksD = [-1, -0.5, 0, 0.5, 1, 1.5];

const BLUE = "#0072BD";
const AXIS = "#4d4d4d";
const TEXT = "#262626";
const FONT = "'Liberation Serif', serif";
const FS = 41;

type Panel = {
  key: string; box: [number, number, number, number];
  xd: [number, number]; yd: [number, number];
  xt: number[]; yt: number[];
  loops: number[][]; rings: number[][]; bands: number[][];
  thinW: number; ringW: number; bandW: number;
  xLabelX: number; capX: number; yLabelX: number;
};

const panels: Panel[] = [
  { key: "(a)", box: [94, 14, 710, 454], xd: [-5, 5], yd: [-2, 2], xt: xTicksA, yt: yTicksA, loops: loopsA, rings: ringsA, bands: bandsA, thinW: 3.4, ringW: 28, bandW: 14, xLabelX: 400, capX: 417, yLabelX: 34 },
  { key: "(b)", box: [913, 14, 1497, 454], xd: [-5.65, 5.73], yd: [-1.296, 1.285], xt: xTicksB, yt: yTicksB, loops: loopsB, rings: ringsB, bands: bandsB, thinW: 1.9, ringW: 9, bandW: 10, xLabelX: 1203, capX: 1205, yLabelX: 822 },
  { key: "(c)", box: [125, 679, 707, 1119], xd: [-10, 10], yd: [-1.25, 1.25], xt: xTicksC, yt: yTicksC, loops: loopsC, rings: ringsC, bands: bandsC, thinW: 2.3, ringW: 10, bandW: 12, xLabelX: 414, capX: 416, yLabelX: 34 },
  { key: "(d)", box: [914, 679, 1498, 1119], xd: [-11.76, 5.37], yd: [-1, 1.5], xt: xTicksD, yt: yTicksD, loops: loopsD, rings: ringsD, bands: bandsD, thinW: 1.6, ringW: 6, bandW: 8, xLabelX: 1205, capX: 1205, yLabelX: 822 },
];

const toPairs = (flat: number[]) => {
  const out: [number, number][] = [];
  for (let i = 0; i + 1 < flat.length; i += 2) out.push([flat[i], flat[i + 1]]);
  return out;
};

function PanelView({ p }: { p: Panel }) {
  const [l, t, r, b] = p.box;
  const x = d3.scaleLinear().domain(p.xd).range([l, r]);
  const y = d3.scaleLinear().domain(p.yd).range([b, t]);
  const closed = d3.line<[number, number]>().x(d => x(d[0])).y(d => y(d[1])).curve(d3.curveCatmullRomClosed.alpha(0.5));
  const open = d3.line<[number, number]>().x(d => x(d[0])).y(d => y(d[1])).curve(d3.curveCatmullRom.alpha(0.5));
  return (
    <g>
      <g fill="none" stroke={BLUE} strokeLinejoin="round" strokeLinecap="round">
        {p.rings.map((s, i) => <path key={"r" + i} d={closed(toPairs(s)) || ""} strokeWidth={p.ringW} />)}
        {p.bands.map((s, i) => <path key={"b" + i} d={open(toPairs(s)) || ""} strokeWidth={p.bandW} />)}
        {p.loops.map((s, i) => <path key={"l" + i} d={closed(toPairs(s)) || ""} strokeWidth={p.thinW} />)}
      </g>
      <rect x={l} y={t} width={r - l} height={b - t} fill="none" stroke={AXIS} strokeWidth={1.6} />
      {p.xt.map(v => (
        <g key={"x" + v}>
          <line x1={x(v)} x2={x(v)} y1={b} y2={b - 6} stroke={AXIS} strokeWidth={1.4} />
          <line x1={x(v)} x2={x(v)} y1={t} y2={t + 6} stroke={AXIS} strokeWidth={1.4} />
          <text x={x(v)} y={b + 49} textAnchor="middle" fontFamily={FONT} fontSize={FS} fill={TEXT}>{String(v)}</text>
        </g>
      ))}
      {p.yt.map(v => (
        <g key={"y" + v}>
          <line x1={l} x2={l + 6} y1={y(v)} y2={y(v)} stroke={AXIS} strokeWidth={1.4} />
          <line x1={r} x2={r - 6} y1={y(v)} y2={y(v)} stroke={AXIS} strokeWidth={1.4} />
          <text x={l - 13} y={y(v) + 13} textAnchor="end" fontFamily={FONT} fontSize={FS} fill={TEXT}>{String(v)}</text>
        </g>
      ))}
      <text x={p.xLabelX} y={b + 102} textAnchor="middle" fontFamily={FONT} fontSize={FS} fill={TEXT}>x1</text>
      <text x={p.capX} y={b + 166} textAnchor="middle" fontFamily={FONT} fontSize={FS} fill={TEXT}>{p.key}</text>
      <text transform={`translate(${p.yLabelX},${(t + b) / 2}) rotate(-90)`} textAnchor="middle" fontFamily={FONT} fontSize={FS} fill={TEXT}>y1</text>
    </g>
  );
}

export default function App() {
  return (
    <svg width={1500} height={1295} style={{ position: "absolute", left: 0, top: 0, background: "#fff" }}>
      {panels.map(p => <PanelView key={p.key} p={p} />)}
    </svg>
  );
}
